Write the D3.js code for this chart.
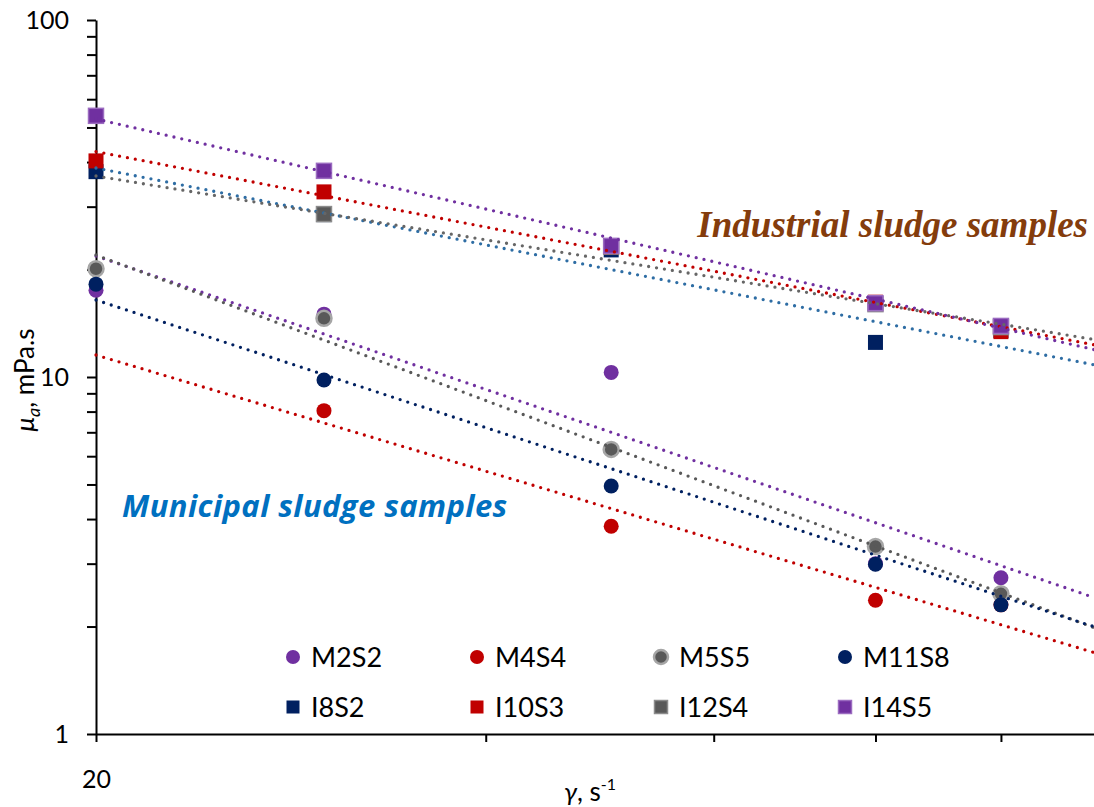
<!DOCTYPE html>
<html lang="en">

<head>
    <meta charset="utf-8">
    <title>Apparent viscosity of sludge samples</title>
    <script type="text/javascript" src="https://cdn.jsdelivr.net/npm/d3@7"></script>
    <style type="text/css">
        body {
            margin: 0;
            background: #fff;
        }

        svg {
            display: block;
            font-family: Lato, "Open Sans", sans-serif;
        }

        .axis path,
        .axis line {
            stroke: #000;
            stroke-width: 2;
        }

        .axis text {
            font-family: Lato, sans-serif;
            font-size: 25px;
            fill: #000;
        }
    </style>
</head>

<body>
    <script type="text/javascript">
        // shear rate, s-1
        var shearRates = [20, 30, 50, 80, 100];

        // apparent viscosity, mPa.s (null = no point)
        var m2s2 = [17.5, 15.0, 10.3, 3.0, 2.74];
        var m4s4 = [null, 8.05, 3.82, 2.37, 2.30];
        var m5s5 = [20.1, 14.6, 6.27, 3.35, 2.47];
        var m11s8 = [18.2, 9.81, 4.95, 2.99, 2.30];
        var i8s2 = [37.6, 28.5, 22.7, 12.5, 13.5];
        var i10s3 = [40.3, 33.0, 23.1, 16.2, 13.4];
        var i12s4 = [null, 28.6, 23.2, 16.0, 13.8];
        var i14s5 = [53.9, 37.8, 23.3, 16.1, 13.9];

        var seriesNames = ["M2S2", "M4S4", "M5S5", "M11S8", "I8S2", "I10S3", "I12S4", "I14S5"];
        var seriesValues = [m2s2, m4s4, m5s5, m11s8, i8s2, i10s3, i12s4, i14s5];
        var seriesShapes = ["circle", "circle", "circle", "circle", "square", "square", "square", "square"];
        var seriesColors = ["#7030A0", "#C00000", "#595959", "#002060", "#002060", "#C00000", "#595959", "#7030A0"];
        var seriesStrokes = ["none", "none", "#A6A6A6", "none", "none", "none", "#8C8C8C", "#9B6BC0"];

        // power trendlines  mu = a * gamma^b
        var trendA = [898.6, 293.8, 1268.8, 575.4, 327.8, 350.5, 216.7, 650.2];
        var trendB = [-1.241, -1.081, -1.354, -1.187, -0.715, -0.702, -0.594, -0.838];
        var trendColors = ["#7030A0", "#C00000", "#595959", "#002060", "#2E6DA4", "#C00000", "#666666", "#7030A0"];

        var yTicks = [1, 2, 3, 4, 5, 6, 7, 8, 9, 10, 20, 30, 40, 50, 60, 70, 80, 90, 100];
        var yLabels = [1, 10, 100];
        var xTicks = [20, 40, 60, 80, 100];
        var xLabels = [20];

        var w = 1094;
        var h = 807;

        var xScale = d3.scaleLog()
            .domain([20, 118])
            .range([96, 1094]);

        var yScale = d3.scaleLog()
            .domain([1, 100])
            .range([734, 20]);

        var svg = d3.select("body")
            .append("svg")
            .attr("width", w)
            .attr("height", h);

        //Y axis
        var yAxis = d3.axisLeft(yScale)
            .tickValues(yTicks)
            .tickSize(9)
            .tickSizeOuter(0)
            .tickPadding(18)
            .tickFormat(function (d) { return yLabels.indexOf(d) >= 0 ? d : ""; });

        svg.append("g")
            .attr("class", "axis")
            .attr("transform", "translate(96,0)")
            .call(yAxis);

        //X axis
        var xAxis = d3.axisBottom(xScale)
            .tickValues(xTicks)
            .tickSize(8)
            .tickSizeOuter(0)
            .tickPadding(28)
            .tickFormat(function (d) { return xLabels.indexOf(d) >= 0 ? d : ""; });

        svg.append("g")
            .attr("class", "axis")
            .attr("transform", "translate(0,734)")
            .call(xAxis);

        // markers, one group per series (draw order as in the sheet)
        seriesValues.forEach(function (vals, i) {
            var pts = shearRates.map(function (x, j) { return { x: x, y: vals[j] }; })
                .filter(function (d) { return d.y != null; });
            var g = svg.append("g").attr("class", "series s" + i);
            if (seriesShapes[i] === "circle") {
                g.selectAll("circle")
                    .data(pts)
                    .enter().append("circle")
                    .attr("cx", d => xScale(d.x))
                    .attr("cy", d => yScale(d.y))
                    .attr("r", 7.5)
                    .style("fill", seriesColors[i])
                    .style("stroke", seriesStrokes[i])
                    .style("stroke-width", 2.5);
            } else {
                g.selectAll("rect")
                    .data(pts)
                    .enter().append("rect")
                    .attr("x", d => xScale(d.x) - 7.5)
                    .attr("y", d => yScale(d.y) - 7.5)
                    .attr("width", 15)
                    .attr("height", 15)
                    .style("fill", seriesColors[i])
                    .style("stroke", seriesStrokes[i])
                    .style("stroke-width", 1.5);
            }
        });

        // dotted power trendlines, over the full x range
        var trendX = d3.range(0, 41).map(function (k) { return 20 * Math.pow(118 / 20, k / 40); });
        var line = d3.line()
            .x(d => xScale(d[0]))
            .y(d => yScale(d[1]));

        seriesNames.forEach(function (name, i) {
            svg.append("path")
                .datum(trendX.map(function (x) { return [x, trendA[i] * Math.pow(x, trendB[i])]; }))
                .attr("d", line)
                .style("fill", "none")
                .style("stroke", trendColors[i])
                .style("stroke-width", 3.3)
                .style("stroke-linecap", "round")
                .style("stroke-dasharray", "0 8");
        });

        // group labels
        svg.append("text")
            .attr("x", 1088)
            .attr("y", 237)
            .attr("text-anchor", "end")
            .style("font-family", "'Liberation Serif', serif")
            .style("font-weight", "bold")
            .style("font-style", "italic")
            .style("font-size", "37px")
            .style("fill", "#843C0C")
            .text("Industrial sludge samples");

        svg.append("text")
            .attr("x", 122)
            .attr("y", 517)
            .style("font-family", "'Open Sans', sans-serif")
            .style("font-weight", "bold")
            .style("font-style", "italic")
            .style("font-size", "31px")
            .style("letter-spacing", "0.4px")
            .style("fill", "#0070C0")
            .text("Municipal sludge samples");

        // legend
        var legend = svg.selectAll(".legend")
            .data(seriesNames)
            .enter().append("g")
            .attr("class", "legend")
            .attr("transform", function (d, i) {
                return "translate(" + (293 + (i % 4) * 184) + "," + (657 + Math.floor(i / 4) * 50) + ")";
            });

        legend.each(function (d, i) {
            var g = d3.select(this);
            if (seriesShapes[i] === "circle") {
                g.append("circle")
                    .attr("r", 7)
                    .style("fill", seriesColors[i])
                    .style("stroke", seriesStrokes[i])
                    .style("stroke-width", 2.5);
            } else {
                g.append("rect")
                    .attr("x", -6.5).attr("y", -6.5)
                    .attr("width", 13).attr("height", 13)
                    .style("fill", seriesColors[i])
                    .style("stroke", seriesStrokes[i])
                    .style("stroke-width", 1.5);
            }
            g.append("text")
                .attr("x", 18)
                .attr("y", 10)
                .style("font-size", "27px")
                .style("fill", "#000")
                .text(d);
        });

        // axis titles
        var yTitle = svg.append("text")
            .attr("transform", "translate(34,380) rotate(-90)")
            .attr("text-anchor", "middle")
            .style("font-size", "26px")
            .style("fill", "#000");
        yTitle.append("tspan").style("font-style", "italic").text("μ");
        yTitle.append("tspan").style("font-style", "italic").style("font-size", "18px").attr("dy", 6).text("a");
        yTitle.append("tspan").attr("dy", -6).text(", mPa.s");

        var xTitle = svg.append("text")
            .attr("x", 590)
            .attr("y", 801)
            .attr("text-anchor", "middle")
            .style("font-size", "26px")
            .style("fill", "#000");
        xTitle.append("tspan").style("font-style", "italic").text("γ");
        xTitle.append("tspan").text(", s");
        xTitle.append("tspan").style("font-size", "16px").attr("dy", -11).text("-1");
    </script>
</body>

</html>
